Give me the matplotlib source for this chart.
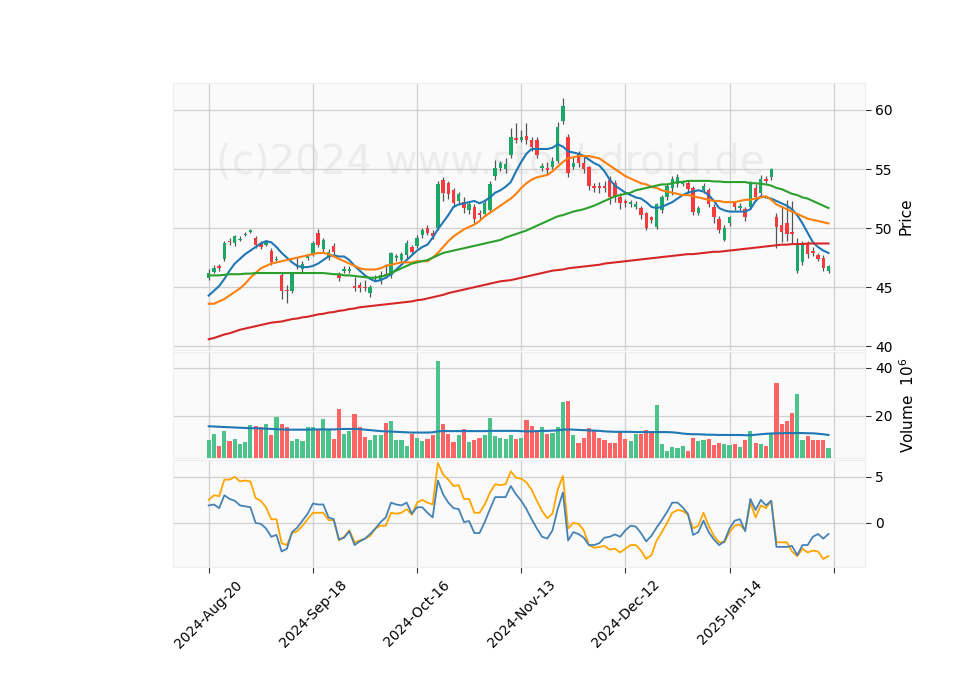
import matplotlib.pyplot as plt
import numpy as np

# candles (price)
opens = [45.8,46.3,46.8,47.4,48.9,48.7,49.0,49.4,49.7,49.2,
         48.7,48.6,48.1,47.3,46.0,44.8,44.7,46.7,46.5,47.5,
         47.8,49.6,48.2,47.5,48.5,46.0,46.4,46.4,45.1,45.2,
         45.0,44.5,45.8,45.5,46.1,46.0,47.5,47.3,47.7,48.4,
         48.5,49.4,50.0,49.6,50.0,54.1,53.8,53.2,52.3,52.2,
         51.5,51.8,51.3,51.2,51.5,54.4,55.1,55.0,56.2,57.6,
         57.5,57.8,57.5,57.5,55.1,55.1,55.2,55.7,59.1,57.7,
         55.2,56.3,55.5,55.2,53.6,53.6,53.6,54.1,53.8,52.6,
         52.3,52.0,51.8,51.7,51.3,50.9,50.1,51.5,52.6,53.4,
         53.7,53.7,53.8,53.4,51.3,53.2,53.2,51.8,50.8,49.0,
         50.4,52.1,51.7,51.6,51.8,53.4,53.0,54.2,54.3,50.9,
         50.3,50.4,49.7,46.4,47.1,48.7,48.1,47.7,47.5,46.4]
closes = [46.2,46.6,46.6,48.7,48.8,49.3,49.1,49.5,49.8,48.6,
          48.4,48.8,47.1,47.4,44.7,44.7,46.2,46.8,47.0,47.6,
          48.7,48.6,49.0,48.0,48.0,45.8,46.5,46.5,44.9,44.9,
          44.9,45.0,45.9,46.0,46.0,47.9,47.6,47.8,48.7,48.0,
          49.2,49.8,49.6,49.3,53.7,53.0,52.9,52.1,52.9,51.7,
          52.0,50.8,51.1,52.1,53.7,55.1,55.5,55.4,57.7,57.5,
          57.7,57.5,56.9,56.2,55.3,54.9,55.7,58.6,60.3,54.7,
          55.5,55.5,55.0,53.6,53.4,53.4,53.4,52.6,52.6,52.1,
          52.1,52.2,52.0,51.1,50.0,50.7,52.0,52.6,53.6,54.2,
          54.3,53.9,53.3,51.4,51.7,53.6,52.0,50.9,49.8,50.0,
          50.9,51.8,51.9,50.9,53.9,52.6,54.2,54.0,55.0,50.1,
          49.7,49.5,49.5,48.7,48.7,47.8,47.9,47.4,46.6,46.8]
highs = [46.5,46.9,47.0,48.9,49.2,49.4,49.3,49.7,49.9,49.3,
         48.9,49.0,48.3,47.6,46.2,45.2,46.3,47.5,47.2,47.8,
         48.9,49.9,49.2,48.2,48.7,46.3,46.8,46.8,45.9,45.4,
         45.6,45.2,46.0,46.4,47.0,48.0,47.8,48.0,49.0,48.6,
         49.4,50.0,50.3,49.8,54.0,54.3,54.0,53.4,53.1,52.6,
         52.2,52.0,51.5,52.5,54.0,55.8,55.7,55.9,58.5,58.9,
         58.3,58.9,57.7,57.7,55.5,55.6,56.0,59.0,61.0,58.0,
         56.0,56.5,56.0,55.3,53.8,53.9,54.0,54.4,54.1,53.0,
         52.5,52.4,52.3,51.9,51.4,51.0,52.1,52.8,53.7,54.4,
         54.6,54.1,54.0,53.6,51.9,53.8,53.4,52.0,51.0,50.3,
         51.0,52.3,52.1,51.8,54.0,53.7,54.5,54.4,55.1,51.3,
         51.9,52.4,52.3,49.2,48.9,48.9,48.4,47.9,47.7,46.9]
lows = [45.6,46.2,46.4,47.2,48.6,48.5,48.9,49.3,49.6,48.3,
        48.2,48.5,46.9,47.2,44.0,43.7,44.5,46.5,46.3,47.3,
        47.6,48.4,48.0,47.3,47.8,45.5,46.2,46.2,44.7,44.6,
        44.7,44.2,45.6,45.3,45.8,45.8,47.2,47.1,47.5,47.8,
        48.3,49.2,49.4,49.1,49.8,52.3,52.5,51.8,52.0,51.3,
        51.2,50.4,50.8,51.0,51.3,54.1,54.8,54.7,55.9,57.2,
        57.3,57.1,56.5,55.9,54.8,54.5,55.0,55.5,58.8,54.3,
        55.0,55.2,54.7,53.2,53.1,53.0,53.1,52.0,52.2,51.6,
        51.8,51.8,51.6,50.8,49.8,50.4,49.9,51.3,52.4,52.8,
        53.5,53.6,53.0,51.1,51.1,53.0,51.8,50.4,49.6,48.9,
        50.2,51.5,51.5,50.6,51.6,52.3,52.8,53.8,54.1,48.3,
        48.8,48.9,48.7,46.2,46.9,47.5,47.6,47.2,46.4,46.2]

ma_blue = [44.3,44.7,45.1,45.7,46.4,47.0,47.4,47.8,48.1,48.4,
           48.7,48.9,48.8,48.4,47.9,47.5,47.1,46.8,46.7,46.7,
           46.8,47.0,47.3,47.6,47.7,47.6,47.6,47.3,46.8,46.4,
           46.0,45.7,45.5,45.6,45.8,46.1,46.5,46.9,47.3,47.7,
           48.1,48.4,48.6,49.2,49.9,50.5,51.1,51.8,52.0,52.1,
           52.2,52.3,52.1,52.3,52.6,53.0,53.2,53.5,53.9,54.8,
           55.6,56.3,56.7,56.7,56.7,56.7,56.8,57.1,56.9,56.5,
           56.4,56.3,56.1,55.8,55.5,55.3,54.8,54.1,53.6,53.3,
           53.0,52.8,52.6,52.5,52.2,51.8,51.7,51.8,52.0,52.2,
           52.5,52.8,53.0,53.1,53.2,53.1,52.8,52.3,51.7,51.5,
           51.4,51.4,51.4,51.4,51.6,52.3,52.7,52.6,52.5,52.3,
           52.1,51.9,51.6,51.1,50.4,49.6,48.8,48.4,48.1,47.9]
ma_orange = [43.6,43.6,43.8,44.0,44.3,44.6,44.9,45.3,45.8,46.2,
             46.6,46.8,47.0,47.1,47.2,47.3,47.4,47.5,47.6,47.7,
             47.8,47.9,47.9,47.8,47.6,47.4,47.2,47.0,46.8,46.6,
             46.5,46.5,46.5,46.6,46.8,46.9,47.0,47.1,47.1,47.1,
             47.2,47.2,47.2,47.5,47.9,48.4,48.9,49.3,49.6,49.9,
             50.1,50.3,50.6,51.0,51.3,51.6,51.9,52.2,52.5,52.9,
             53.4,53.8,54.1,54.3,54.4,54.5,54.8,55.2,55.6,55.9,
             56.0,56.1,56.1,56.1,56.0,55.9,55.6,55.3,55.0,54.7,
             54.4,54.2,54.0,53.8,53.7,53.5,53.4,53.2,53.1,53.0,
             52.9,52.8,52.8,52.7,52.6,52.5,52.4,52.3,52.3,52.2,
             52.2,52.2,52.3,52.4,52.4,52.5,52.6,52.7,52.4,52.0,
             51.8,51.6,51.4,51.2,51.0,50.8,50.7,50.6,50.5,50.4]
ma_green = [46.0,46.0,46.0,46.05,46.1,46.1,46.1,46.15,46.15,46.2,
            46.2,46.2,46.2,46.2,46.2,46.2,46.2,46.2,46.2,46.2,
            46.2,46.2,46.2,46.15,46.1,46.1,46.0,46.0,45.95,45.9,
            45.85,45.8,45.8,45.9,46.0,46.2,46.4,46.6,46.8,47.0,
            47.1,47.2,47.3,47.5,47.7,47.9,48.0,48.1,48.2,48.3,
            48.4,48.5,48.6,48.7,48.8,48.9,49.0,49.2,49.35,49.5,
            49.65,49.8,50.0,50.2,50.4,50.6,50.8,51.0,51.1,51.25,
            51.4,51.5,51.6,51.75,51.9,52.1,52.3,52.5,52.7,52.8,
            52.9,53.0,53.2,53.3,53.4,53.5,53.6,53.7,53.7,53.8,
            53.9,53.9,54.0,54.0,54.0,54.0,54.0,53.95,53.95,53.9,
            53.9,53.9,53.9,53.9,53.8,53.8,53.75,53.7,53.6,53.4,
            53.3,53.1,52.9,52.8,52.6,52.5,52.3,52.1,51.9,51.7]
ma_red = [40.6,40.7,40.85,41.0,41.1,41.25,41.4,41.5,41.6,41.7,
          41.8,41.9,42.0,42.05,42.1,42.2,42.3,42.35,42.45,42.5,
          42.6,42.7,42.75,42.85,42.9,43.0,43.05,43.15,43.2,43.3,
          43.35,43.4,43.45,43.5,43.55,43.6,43.65,43.7,43.75,43.8,
          43.9,43.95,44.05,44.15,44.25,44.35,44.5,44.6,44.7,44.8,
          44.9,45.0,45.1,45.2,45.3,45.4,45.5,45.55,45.6,45.7,
          45.8,45.9,46.0,46.1,46.2,46.3,46.4,46.45,46.5,46.6,
          46.65,46.7,46.75,46.8,46.85,46.9,47.0,47.05,47.1,47.15,
          47.2,47.25,47.3,47.35,47.4,47.45,47.5,47.55,47.6,47.65,
          47.7,47.75,47.8,47.8,47.85,47.9,47.95,48.0,48.0,48.05,
          48.1,48.15,48.2,48.25,48.3,48.35,48.4,48.45,48.5,48.55,
          48.6,48.6,48.65,48.65,48.65,48.7,48.7,48.7,48.7,48.7]

# volume in millions
volume = [10.1,12.4,7.4,13.7,9.5,10.6,8.3,9.1,16.1,15.7,
          15.2,16.6,12.0,19.4,16.6,15.2,9.4,10.6,9.5,15.2,
          15.3,14.1,18.6,14.3,10.3,23.0,12.4,13.9,20.7,15.4,
          11.3,9.9,12.0,12.0,17.1,17.8,10.2,9.9,7.4,12.7,
          10.8,9.4,10.6,12.0,42.6,16.6,12.4,9.1,12.0,14.5,
          9.1,9.9,11.0,12.0,19.3,11.6,11.0,10.6,12.0,10.6,
          10.8,18.2,15.7,13.4,15.2,12.7,13.1,15.2,25.8,26.1,
          12.0,8.6,11.0,14.9,14.3,10.8,9.9,8.7,8.7,13.2,
          10.5,9.5,12.7,12.7,14.1,13.1,24.4,8.3,5.4,7.0,
          6.6,7.7,5.4,10.8,9.7,9.9,10.6,7.9,8.7,8.3,
          8.0,8.3,7.0,10.2,13.7,8.6,8.3,7.4,12.8,33.8,
          16.6,17.8,21.1,29.0,10.2,11.6,9.9,10.2,9.9,6.9]
vol_ma = [15.7,15.6,15.5,15.4,15.3,15.2,15.1,15.0,14.9,14.9,
          14.8,14.7,14.6,14.5,14.4,14.3,14.3,14.3,14.3,14.3,
          14.4,14.4,14.4,14.4,14.4,14.5,14.6,14.6,14.6,14.5,
          14.3,14.1,13.9,13.7,13.6,13.5,13.4,13.3,13.2,13.1,
          13.1,13.1,13.1,13.2,13.6,13.7,13.7,13.7,13.7,13.7,
          13.7,13.7,13.7,13.7,13.8,13.8,13.8,13.8,13.8,13.8,
          13.7,13.6,13.6,13.7,13.8,13.8,13.9,14.0,14.3,14.4,
          14.3,14.2,14.1,14.0,13.9,13.8,13.6,13.5,13.4,13.4,
          13.4,13.4,13.3,13.3,13.3,13.3,13.3,13.3,13.3,13.2,
          13.0,12.7,12.5,12.4,12.4,12.3,12.2,12.2,12.1,12.1,
          12.1,12.1,12.1,12.0,12.0,12.2,12.4,12.6,12.7,12.8,
          12.8,12.9,12.9,12.9,12.9,12.8,12.8,12.6,12.4,12.1]

# lower panel lines
macd_blue = [1.9,2.0,1.6,3.0,2.6,2.4,1.9,1.8,1.7,0.0,
             -0.1,-0.6,-1.5,-1.3,-3.1,-2.8,-1.0,-0.5,0.25,1.0,
             2.1,2.0,2.0,0.6,0.4,-1.8,-1.6,-0.9,-2.4,-2.0,
             -1.7,-1.2,-0.6,0.1,0.6,2.2,2.0,1.9,2.2,1.0,
             1.7,1.7,1.1,0.6,4.6,3.1,2.2,1.6,1.5,0.1,
             0.2,-1.1,-1.1,0.1,1.5,2.8,2.8,2.8,4.0,3.1,
             2.4,1.5,0.4,-0.6,-1.5,-1.7,-0.8,1.5,3.3,-1.9,
             -1.0,-1.2,-1.6,-2.4,-2.4,-2.2,-1.6,-1.5,-1.25,-1.5,
             -0.8,-0.3,-0.4,-1.1,-2.0,-1.4,-0.5,0.3,1.2,2.2,
             2.2,1.7,1.0,-1.3,-1.0,0.25,-1.0,-1.8,-2.4,-2.0,
             -0.6,0.25,0.4,-0.9,2.6,1.4,2.5,1.9,2.4,-2.6,
             -2.6,-2.6,-2.5,-3.5,-2.4,-2.4,-1.5,-1.2,-1.7,-1.2]
macd_orange = [2.5,3.0,2.9,4.7,4.7,5.0,4.5,4.6,4.5,2.7,
               2.4,1.7,0.4,0.4,-2.2,-2.4,-1.1,-0.9,-0.3,0.4,
               1.1,1.1,1.1,0.3,0.3,-1.9,-1.5,-0.8,-2.1,-1.9,
               -1.7,-1.4,-0.6,-0.3,-0.3,1.1,1.0,1.1,1.5,0.9,
               2.2,2.5,2.2,2.0,6.5,5.25,4.7,4.0,4.1,2.6,
               2.6,1.1,1.1,2.0,3.3,4.2,4.1,4.2,5.6,4.9,
               4.8,4.4,3.6,2.4,1.3,0.5,1.0,3.6,5.1,-0.6,
               0.0,-0.1,-0.8,-2.4,-2.7,-2.6,-2.5,-2.9,-2.8,-3.2,
               -2.8,-2.4,-2.4,-3.0,-3.9,-3.5,-1.9,-1.0,0.0,1.1,
               1.4,1.3,0.9,-0.6,-0.3,1.1,-0.3,-1.4,-2.1,-2.1,
               -1.0,-0.3,-0.2,-0.8,2.2,0.6,1.9,1.6,2.4,-2.1,
               -2.1,-2.1,-3.1,-3.6,-2.8,-3.2,-3.0,-3.1,-3.9,-3.6]

tick_pos = [0, 20, 40, 60, 80, 100, 120]
tick_labels = ['2024-Aug-20', '2024-Sep-18', '2024-Oct-16', '2024-Nov-13',
               '2024-Dec-12', '2025-Jan-14', '']

up_c = '#1ba866'
dn_c = '#f63b3f'
x = np.arange(len(closes))
up = np.array(closes) >= np.array(opens)

fig = plt.figure(figsize=(9.6, 6.9), dpi=100)
ax1 = fig.add_axes([0.180, 0.493, 0.721, 0.387])
ax2 = fig.add_axes([0.180, 0.336, 0.721, 0.154], sharex=ax1)
ax3 = fig.add_axes([0.180, 0.178, 0.721, 0.155], sharex=ax1)

for ax in (ax1, ax2, ax3):
    ax.set_facecolor('#fafafa')
    ax.grid(True, color='#d0d0d0', linewidth=0.9)
    ax.set_axisbelow(True)
    for s in ax.spines.values():
        s.set_color('#eeeeee')
    ax.yaxis.tick_right()
    ax.yaxis.set_label_position('right')
    ax.tick_params(length=4, color='#333333', labelsize=10)

cols = [up_c if u else dn_c for u in up]
ax1.vlines(x, lows, highs, color='#555555', linewidth=0.9, zorder=2)
body_b = np.minimum(opens, closes)
body_h = np.maximum(np.abs(np.array(closes) - np.array(opens)), 0.08)
ax1.bar(x, body_h, bottom=body_b, width=0.65, color=cols, zorder=3)
ax1.plot(x, ma_blue, color='#1f77b4', lw=1.5, zorder=4)
ax1.plot(x, ma_orange, color='#ff7f0e', lw=1.5, zorder=4)
ax1.plot(x, ma_green, color='#2ca02c', lw=1.5, zorder=4)
ax1.plot(x, ma_red, color='#d62728', lw=1.5, zorder=4)
ax1.set_ylim(39.7, 62.3)
ax1.set_yticks([40, 45, 50, 55, 60])
ax1.set_ylabel('Price', fontsize=11)
ax1.text(0.458, 0.70, '(c)2024 www.stockdroid.de', transform=ax1.transAxes,
         ha='center', va='center', fontsize=29, color='#cccccc', alpha=0.3, zorder=1)

vcols = ['#4cc38a' if u else '#ff6464' for u in up]
ax2.bar(x, volume, width=0.8, color=vcols, zorder=3)
ax2.plot(x, vol_ma, color='#1f77b4', lw=1.5, zorder=4)
ax2.set_ylim(2.5, 46.5)
ax2.set_yticks([20, 40])
ax2.set_ylabel('Volume  $10^{6}$', fontsize=11)

ax3.plot(x, macd_orange, color='#ffa500', lw=1.3)
ax3.plot(x, macd_blue, color='#4682b4', lw=1.3)
ax3.set_ylim(-4.8, 6.8)
ax3.set_yticks([0, 5])

ax1.set_xlim(-6.9, 126.0)
ax3.set_xticks(tick_pos)
ax3.set_xticklabels(tick_labels, rotation=45)
plt.setp(ax1.get_xticklabels(), visible=False)
plt.setp(ax2.get_xticklabels(), visible=False)
ax1.tick_params(axis='x', length=0)
ax2.tick_params(axis='x', length=0)

fig.savefig('out.png', dpi=100)
